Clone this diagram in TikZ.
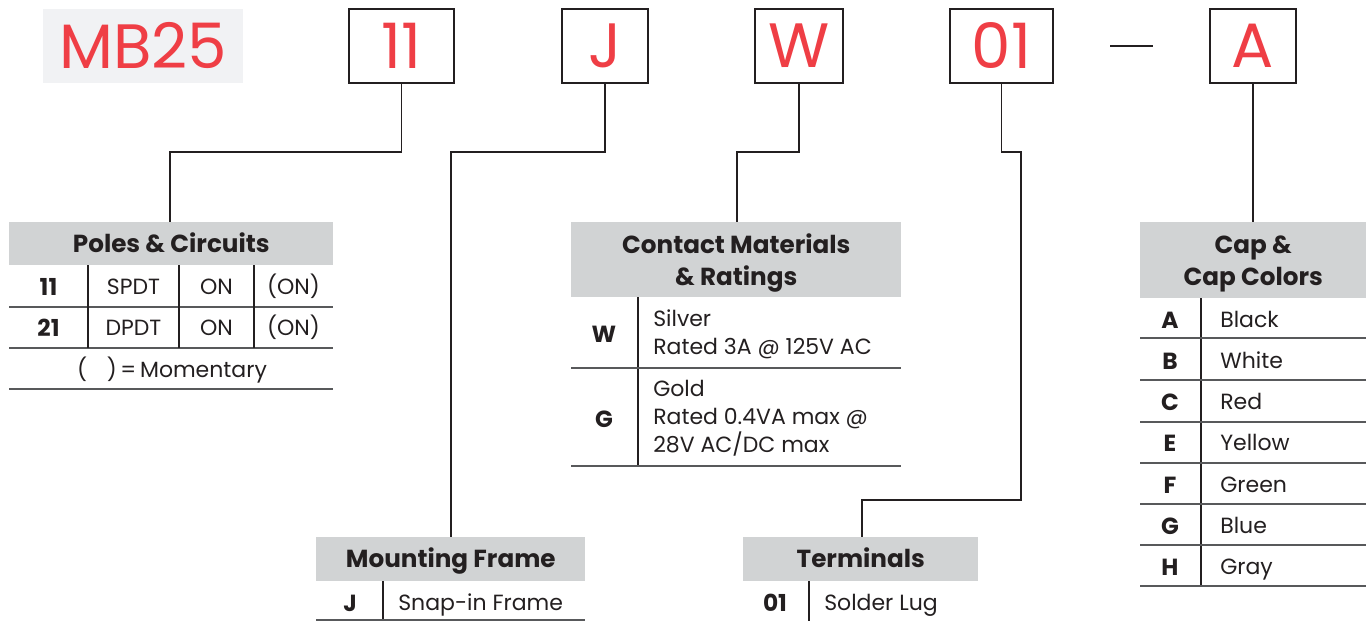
\documentclass[tikz,border=0pt]{standalone}
\usepackage{fontspec}
\setmainfont{Poppins}
\definecolor{codered}{HTML}{EF3E45}
\definecolor{mbbg}{HTML}{F1F2F4}
\definecolor{hdrgray}{HTML}{D1D3D4}
\definecolor{ink}{HTML}{231F20}
\definecolor{rule}{HTML}{58595B}
\tikzset{
  codebox/.style={draw=ink, line width=1.5pt, fill=white, text=codered, inner sep=0pt,
     minimum height=55.5pt, font=\fontsize{47}{47}\selectfont},
  hdr/.style={fill=hdrgray, anchor=north west, inner sep=0pt, align=center, text=ink,
     font=\fontsize{18.5}{24}\selectfont\bfseries},
  hdrone/.style={hdr, text height=12.9pt, text depth=0pt},
  conn/.style={draw=ink, line width=0.8pt},
  hrule/.style={draw=rule, line width=1pt},
  vrule/.style={draw=ink, line width=0.8pt},
  key/.style={text=ink, inner sep=0pt, text height=12.2pt, text depth=0pt,
     font=\fontsize{17.5}{20}\selectfont\bfseries},
  val/.style={text=ink, inner sep=0pt, text height=11.5pt, text depth=0pt,
     font=\fontsize{16.5}{20}\selectfont},
  sval/.style={val, anchor=west},
  vall/.style={text=ink, inner sep=0pt, anchor=west, align=left, font=\fontsize{16.5}{21}\selectfont},
}
\begin{document}
\begin{tikzpicture}[x=0.75pt,y=-0.75pt]
\useasboundingbox (0,0) rectangle (1369,621);

% top code
\node[fill=mbbg, text=codered, inner sep=0pt, minimum width=150pt, minimum height=55.5pt,
      font=\fontsize{47}{47}\selectfont] (mb) at (143,46) {MB25};
\node[codebox, minimum width=78.75pt] (c11) at (401.5,46) {11};
\node[codebox, minimum width=64.5pt] (cJ) at (605,46) {J};
\node[codebox, minimum width=66pt] (cW) at (799,46) {W};
\node[codebox, minimum width=77.25pt] (c01) at (1001.5,46) {01};
\node[codebox, minimum width=64.5pt] (cA) at (1253,46) {A};
\coordinate (d1) at (1110,46);
\coordinate (d2) at (1153,46);
\draw[draw=ink, line width=1.5pt] (d1) -- (d2);

% headers
\node[hdrone, minimum width=243pt, minimum height=32.25pt] (hPoles) at (9,222) {Poles \& Circuits};
\node[hdr, minimum width=247.5pt, minimum height=56.25pt] (hCont) at (571,222) {\rule{0pt}{19.5pt}Contact Materials\\\& Ratings};
\node[hdr, minimum width=169.5pt, minimum height=57pt] (hCap) at (1140,222) {\rule{0pt}{19.5pt}Cap \&\\Cap Colors};
\node[hdrone, minimum width=201.75pt, minimum height=33pt] (hMount) at (316,537) {Mounting Frame};
\node[hdrone, minimum width=176.25pt, minimum height=33pt] (hTerm) at (743,537) {Terminals};

% connectors
\coordinate (k11) at (170,152);
\coordinate (kJ) at (451,152);
\coordinate (kW) at (737,152);
\coordinate (k01a) at (1021,152);
\coordinate (k01b) at (862,500);
\draw[conn] (c11.south) |- (k11) -- (hPoles.north -| k11);
\draw[conn] (cJ.south) |- (kJ) -- (hMount.north -| kJ);
\draw[conn] (cW.south) |- (kW) -- (hCont.north -| kW);
\draw[conn] (c01.south) |- (k01a) |- (k01b) -- (hTerm.north -| k01b);
\draw[conn] (cA.south) -- (hCap.north -| cA.south);

% Poles & Circuits table
\draw[hrule] (9,307) -- (333,307);
\draw[hrule] (9,348) -- (333,348);
\draw[hrule] (9,389) -- (333,389);
\draw[vrule] (88,265) -- (88,348);
\draw[vrule] (179,265) -- (179,348);
\draw[vrule] (254,265) -- (254,348);
\node[key] (p11) at (48.5,287) {11};
\node[val] (p11a) at (133.5,287) {SPDT};
\node[val] (p11b) at (216.5,287) {ON};
\node[val] (p11c) at (293.5,287) {(ON)};
\node[key] (p21) at (48.5,328) {21};
\node[val] (p21a) at (133.5,328) {DPDT};
\node[val] (p21b) at (216.5,328) {ON};
\node[val] (p21c) at (293.5,328) {(ON)};
\node[val] (pmom) at (172,370) {(\hspace{0.9em})\,=\,Momentary};

% Contact table
\draw[vrule] (638,297) -- (638,466);
\draw[hrule] (571,368) -- (901,368);
\draw[hrule] (571,466) -- (901,466);
\node[key] (cw) at (604,334) {W};
\node[vall] (cwt) at (653,334) {Silver\\Rated 3A @ 125V AC};
\node[key] (cg) at (604,419) {G};
\node[vall] (cgt) at (653,418) {Gold\\Rated 0.4VA max @\\28V AC/DC max};

% Cap table
\draw[vrule] (1201,298) -- (1201,586);
\foreach \yy in {338,380,422,463,504,545,586} \draw[hrule] (1140,\yy) -- (1366,\yy);
\node[key] (ka) at (1170,320) {A};  \node[sval] (va) at (1220,320) {Black};
\node[key] (kb) at (1170,361) {B};  \node[sval] (vb) at (1220,361) {White};
\node[key] (kc) at (1170,402) {C};  \node[sval] (vc) at (1220,402) {Red};
\node[key] (ke) at (1170,443) {E};  \node[sval] (ve) at (1220,443) {Yellow};
\node[key] (kf) at (1170,485) {F};  \node[sval] (vf) at (1220,485) {Green};
\node[key] (kg) at (1170,526) {G};  \node[sval] (vg) at (1220,526) {Blue};
\node[key] (kh) at (1170,567) {H};  \node[sval] (vh) at (1220,567) {Gray};

% Mounting frame
\draw[vrule] (383,581) -- (383,621);
\draw[hrule] (316,620) -- (585,620);
\node[key] (mj) at (350,603) {J};
\node[sval] (mjt) at (398,603) {Snap-in Frame};

% Terminals
\draw[vrule] (809,581) -- (809,621);
\node[key] (t01) at (775,603) {01};
\node[sval] (t01t) at (824,603) {Solder Lug};
\end{tikzpicture}
\end{document}
